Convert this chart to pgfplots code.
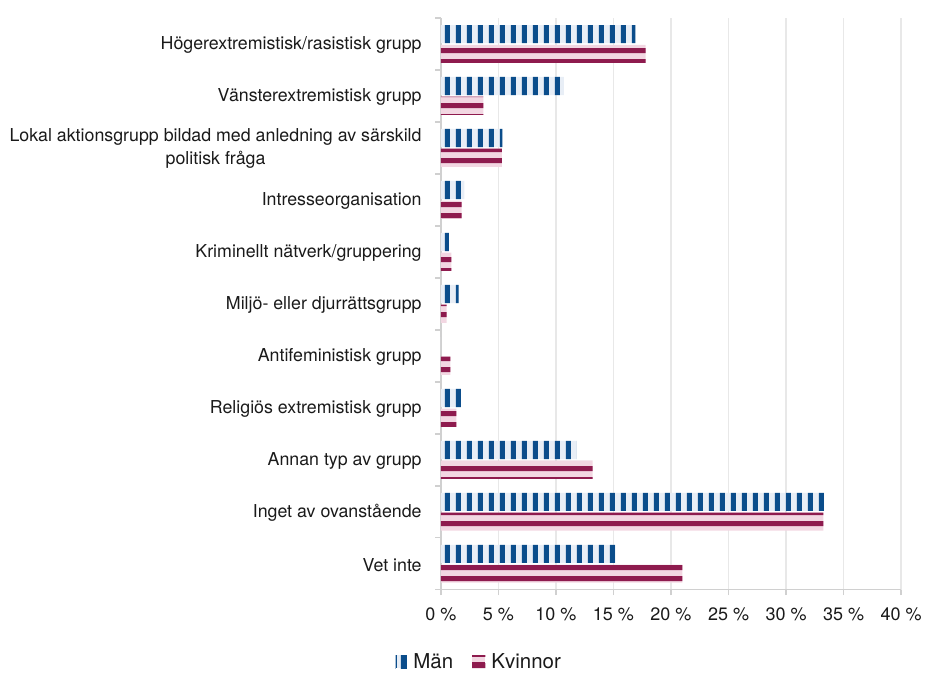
\documentclass[border=0pt]{standalone}
\usepackage{fontspec}
\setmainfont{TeX Gyre Heros}
\usepackage{pgfplots}
\usepackage{pgfplotstable}
\pgfplotsset{compat=1.18}
\usetikzlibrary{patterns}
\definecolor{mandark}{HTML}{0B4D8B}
\definecolor{manlight}{HTML}{E8EEF6}
\definecolor{kvdark}{HTML}{8E1B4E}
\definecolor{kvlight}{HTML}{F2D7E2}
\definecolor{gridgray}{HTML}{E8E8E8}
\definecolor{axisgray}{HTML}{D0D0D0}
\definecolor{textcol}{HTML}{1A1A1A}

\pgfdeclarepatternformonly{vstripe}{\pgfpointorigin}{\pgfpoint{11pt}{11pt}}{\pgfpoint{11pt}{11pt}}{\pgfpathrectangle{\pgfpoint{6pt}{0pt}}{\pgfpoint{5pt}{11pt}}\pgfusepath{fill}}
\pgfdeclarepatternformonly{hstripe}{\pgfpointorigin}{\pgfpoint{11pt}{11pt}}{\pgfpoint{11pt}{11pt}}{\pgfpathrectangle{\pgfpoint{0pt}{6pt}}{\pgfpoint{11pt}{5pt}}\pgfusepath{fill}}

\pgfplotstableread{
y man kv
10 16.9 17.8
9 10.7 3.7
8 5.35 5.3
7 2.05 1.8
6 0.7 0.93
5 1.56 0.5
4 0 0.84
3 1.74 1.36
2 11.8 13.2
1 33.3 33.25
0 15.2 21.0
}\datatable

\begin{document}
\begin{tikzpicture}
\path (-440pt,-77pt) rectangle (485pt,596pt);
\begin{axis}[
  at={(1pt,6pt)}, anchor=south west,
  scale only axis, width=460.6pt, height=572pt,
  xmin=0, xmax=40, ymin=-0.5, ymax=10.5,
  axis x line*=bottom, axis y line*=left,
  axis line style={axisgray, line width=1.5pt, -},
  xmajorgrids, grid style={gridgray, line width=1.5pt},
  tick align=outside, major tick length=5.5pt,
  tick style={axisgray, line width=1.5pt},
  xtick={0,5,...,40},
  xticklabels={0~\%,5~\%,10~\%,15~\%,20~\%,25~\%,30~\%,35~\%,40~\%},
  xticklabel style={font=\fontsize{18}{20}\selectfont, text=textcol, yshift=-9pt},
  ytick={-0.5,0.5,...,10.5}, yticklabels={},
  extra y ticks={0,1,2,3,4,5,6,7,8,9,10},
  extra y tick labels={{Vet inte},{Inget av ovanstående},{Annan typ av grupp},{Religiös extremistisk grupp},{Antifeministisk grupp},{Miljö- eller djurrättsgrupp},{Kriminellt nätverk/gruppering},{Intresseorganisation},{Lokal aktionsgrupp bildad med anledning av särskild\\politisk fråga},{Vänsterextremistisk grupp},{Högerextremistisk/rasistisk grupp}},
  extra y tick style={major tick length=0pt, grid=none,
    yticklabel style={font=\fontsize{17.8}{23}\selectfont, align=center, text=textcol, anchor=east, inner sep=0pt, xshift=-19pt, yshift=-1pt}},
  legend style={draw=none, fill=none, at={(0.0836,-0.126)}, anchor=center,
    font=\fontsize{20.5}{24}\selectfont, text=textcol,
    /tikz/every odd column/.append style={column sep=4pt},
    /tikz/every even column/.append style={column sep=17pt}},
  legend columns=2,
  legend cell align=left,
]
\addplot[xbar, bar width=0.35, bar shift=0.19, draw=none, fill=manlight,
  postaction={pattern=vstripe, pattern color=mandark},
  legend image code/.code={
    \fill[manlight] (0pt,-6.3pt) rectangle (11.7pt,6.3pt);
    \fill[mandark] (0pt,-6.3pt) rectangle (1.5pt,6.3pt);
    \fill[mandark] (6.7pt,-6.3pt) rectangle (11.7pt,6.3pt);}]
  table[x=man, y=y] {\datatable};
\addlegendentry{Män}
\addplot[xbar, bar width=0.35, bar shift=-0.19, draw=none, fill=kvlight,
  postaction={pattern=hstripe, pattern color=kvdark},
  legend image code/.code={
    \fill[kvlight] (0pt,0pt) rectangle (13.3pt,6.3pt);
    \fill[kvdark] (0pt,-6.3pt) rectangle (13.3pt,0pt);}]
  table[x=kv, y=y] {\datatable};
\addlegendentry{Kvinnor}
\end{axis}
\end{tikzpicture}
\end{document}
